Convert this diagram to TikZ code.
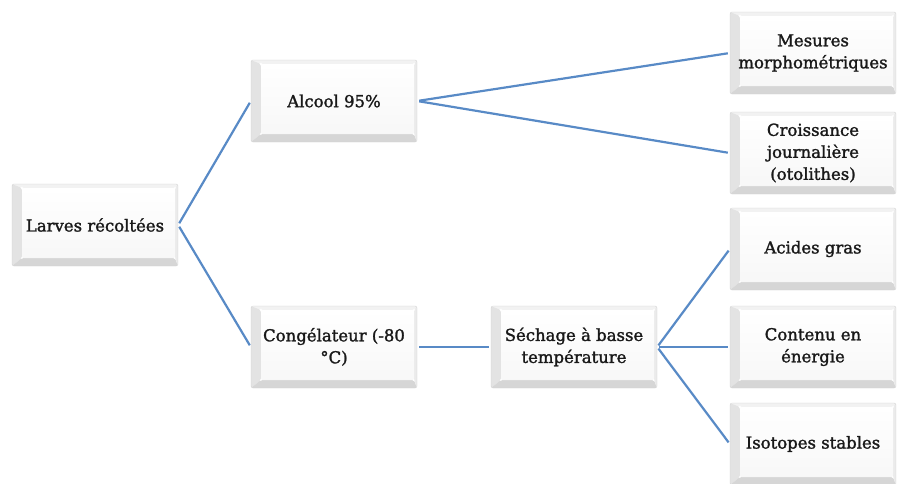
\documentclass[tikz,border=0pt]{standalone}
\usepackage{fontspec}
\newfontfamily\boxfont{DejaVu Serif}[FakeBold=1.6]
\usetikzlibrary{calc}

\begin{document}
\begin{tikzpicture}[
  x=1pt,y=-1pt,
  bevel/.style={draw=gray!35, fill=white, rounded corners=2pt, align=center, minimum width=166pt, minimum height=82pt, inner sep=2pt,
    font=\boxfont\fontsize{16.5}{22}\selectfont, text=black!90,
    path picture={
      \fill[gray!10] (path picture bounding box.north west) -- (path picture bounding box.north east) -- ++(-3,4) -| ($(path picture bounding box.north west)+(10,4)$) -- cycle;
      \fill[gray!22] (path picture bounding box.north west) -- ($(path picture bounding box.north west)+(10,4)$) |- ($(path picture bounding box.south west)+(10,-8)$) -- (path picture bounding box.south west) -- cycle;
      \fill[gray!32] (path picture bounding box.south west) -- ($(path picture bounding box.south west)+(10,-8)$) -- ($(path picture bounding box.south east)+(-3,-8)$) -- (path picture bounding box.south east) -- cycle;
      \fill[gray!16] (path picture bounding box.north east) -- ($(path picture bounding box.north east)+(-3,4)$) -- ($(path picture bounding box.south east)+(-3,-8)$) -- (path picture bounding box.south east) -- cycle;
      \shade[top color=white, bottom color=gray!6] ($(path picture bounding box.north west)+(10,4)$) rectangle ($(path picture bounding box.south east)+(-3,-8)$);
    }},
  link/.style={draw={rgb,255:red,88;green,138;blue,198}, line width=2.2pt, shorten <=2pt, shorten >=2pt}
]
\useasboundingbox (0,0) rectangle (899,483);
\node[bevel] (larves) at (95,225) {Larves récoltées};
\node[bevel] (alcool) at (334,101) {Alcool 95\%};
\node[bevel] (congel) at (334,347) {Congélateur (-80\\°C)};
\node[bevel] (sechage) at (574,347) {Séchage à basse\\température};
\node[bevel] (mesures) at (813,53) {Mesures\\morphométriques};
\node[bevel] (croiss) at (813,153) {Croissance\\journalière\\(otolithes)};
\node[bevel] (acides) at (813,249) {Acides gras};
\node[bevel] (contenu) at (813,347) {Contenu en\\énergie};
\node[bevel] (isotopes) at (813,444) {Isotopes stables};
\draw[link] (larves.east) -- (alcool.west); \draw[link] (larves.east) -- (congel.west);
\draw[link] (alcool.east) -- (mesures.west); \draw[link] (alcool.east) -- (croiss.west);
\draw[link] (congel.east) -- (sechage.west);
\draw[link] (sechage.east) -- (acides.west); \draw[link] (sechage.east) -- (contenu.west); \draw[link] (sechage.east) -- (isotopes.west);
\end{tikzpicture}
\end{document}
